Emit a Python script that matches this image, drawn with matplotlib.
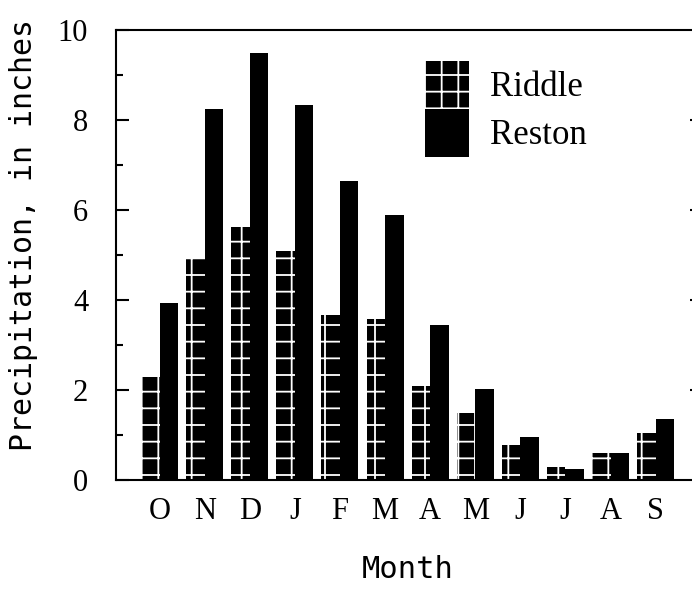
import matplotlib.pyplot as plt
import numpy as np
from matplotlib.ticker import MultipleLocator

months = ['O', 'N', 'D', 'J', 'F', 'M', 'A', 'M', 'J', 'J', 'A', 'S']
riddle = [2.28, 4.93, 5.62, 5.09, 3.67, 3.58, 2.10, 1.48, 0.77, 0.28, 0.61, 1.04]
reston = [3.93, 8.24, 9.49, 8.33, 6.64, 5.89, 3.44, 2.02, 0.95, 0.24, 0.61, 1.35]

plt.rcParams['hatch.linewidth'] = 1.3
plt.rcParams['axes.linewidth'] = 1.5

fig = plt.figure(figsize=(6.92, 5.91), dpi=100)
ax = fig.add_axes([116 / 692, 111 / 591, 578 / 692, 450 / 591])

x = np.arange(len(months))
w = 0.41
ax.bar(x - w / 2, riddle, w, color='black', edgecolor='white', linewidth=0,
       hatch='+', label='Riddle')
ax.bar(x + w / 2, reston, w, color='black', linewidth=0, label='Reston')

ax.set_xlim(-0.965, 11.85)
ax.set_ylim(0, 10)
ax.set_xticks(x, months)
ax.tick_params(axis='x', length=0, pad=12)
ax.yaxis.set_major_locator(MultipleLocator(2))
ax.yaxis.set_minor_locator(MultipleLocator(1))
ax.tick_params(axis='y', which='major', direction='in', length=9.5, width=1.5, pad=20)
ax.tick_params(axis='y', which='minor', direction='in', length=5, width=1.5)
for lab in ax.get_xticklabels() + ax.get_yticklabels():
    lab.set_fontfamily('Liberation Serif')
    lab.set_fontsize(22)

# short ticks on the right side
twin = ax.twinx()
twin.set_ylim(0, 10)
twin.set_yticks([2, 4, 6, 8])
twin.tick_params(direction='in', length=3, width=1.5, labelright=False)
for s in twin.spines.values():
    s.set_visible(False)

ax.set_ylabel('Precipitation, in inches', fontfamily='DejaVu Sans Mono', fontsize=21.5)
ax.yaxis.set_label_coords(-0.135, 0.544)
ax.set_xlabel('Month', fontfamily='DejaVu Sans Mono', fontsize=22, va='baseline')
ax.xaxis.set_label_coords(0.504, -0.218)

ax.legend(loc='upper left', bbox_to_anchor=(425 / 692, 1 - 61 / 591),
          bbox_transform=fig.transFigure, frameon=False, borderpad=0,
          borderaxespad=0, labelspacing=0, handlelength=1.27, handleheight=1.75,
          handletextpad=0.6, prop={'family': 'Liberation Serif', 'size': 25})

fig.savefig('out.png', dpi=100)
